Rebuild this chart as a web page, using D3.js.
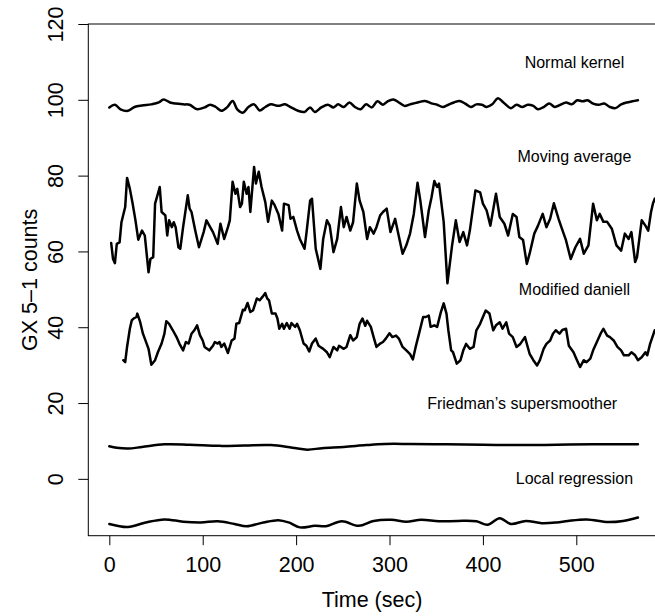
<!DOCTYPE html>
<html>
<head>
<meta charset="utf-8">
<script src="https://cdn.jsdelivr.net/npm/d3@7"></script>
<style>
  html, body { margin: 0; padding: 0; background: #fff; }
  svg { display: block; font-family: "Liberation Sans", Arial, Helvetica, sans-serif; }
</style>
</head>
<body>
<svg id="chart" width="655" height="616"></svg>
<script>
// ---- data -------------------------------------------------------------
const timeNormal = [0,6,12,20,27,35,45,53,58,65,71,79,86,94,102,108,114,120,126,132,137,143,149,155,161,167,173,181,188,194,202,209,215,220,227,234,240,245,251,257,263,269,275,281,287,293,298,304,310,316,322,330,338,346,351,357,363,369,375,381,387,393,399,404,410,416,422,430,436,442,448,454,459,465,471,477,483,489,495,501,507,512,518,524,530,536,542,548,554,560,566];
const normalKernel = [98.0,98.7,97.5,97.1,98.1,98.5,98.8,99.3,100.1,99.3,99,98.8,98.7,97.5,98,98.7,98.1,97.1,98,99.7,97.5,96.6,98.1,98.8,97.2,98.1,98.8,98.4,98.8,98.1,97.1,96.8,98,96.8,98,98.7,98,98.8,98.1,99.3,98.1,97.5,98.8,98,99.6,98.7,99.6,100.1,99.3,98.4,98.8,99.3,99.7,99,98.7,98.1,98.7,99.3,99.7,99,98.1,98.8,98.7,98.1,98.8,100.4,99.3,97.8,98.7,98.1,98.7,98.4,97.5,98.1,99,98.1,98.7,99.3,98.8,99.9,99.6,99.9,99,98.7,99,98.1,97.8,98.8,99.3,99.6,99.9];

const timeMoving = [2,4,6,8,11,13,17,19,22,25,28,31,35,38,42,44,47,49,51,54,56,60,62,64,67,69,71,74,76,79,84,86,88,92,96,101,104,108,111,116,119,123,127,129,132,135,137,140,142,144,147,149,151,155,157,160,163,167,170,174,177,181,185,187,192,194,197,201,204,209,211,215,217,221,226,229,233,236,240,244,248,251,254,258,261,265,268,272,276,279,283,286,290,293,297,301,306,309,314,318,322,326,330,333,338,342,345,348,351,353,358,362,367,371,375,379,383,386,392,397,400,404,408,414,418,423,427,432,436,439,443,447,450,455,459,464,468,472,476,481,484,489,494,499,504,508,513,518,522,525,529,533,538,543,548,552,556,559,563,565,570,574,577,580,582,584,589];
const movingAverage = [62.2,58,56.9,62,62.4,67.7,71.7,79.4,76.5,72.6,68.2,63.1,65.5,64.2,54.5,58,58.5,72.6,74.3,77,70.4,69.5,64.2,68.2,66.4,67.7,66.4,61.1,60.7,66.4,74.8,71.3,70.4,65.5,61.1,65.1,68.2,66.4,65.1,62,67.3,63.3,66.4,68.2,78.4,75.2,76.5,71.7,72.6,78.4,75.2,77,70.4,82.3,77.9,81,77,73,67.8,73.4,72.2,69.9,65.5,72.6,72.2,68.6,69.1,65.5,63.3,60.7,64.7,73.4,73.9,60.7,55.4,63.3,68.2,66.8,59.8,63.3,71.7,66.4,69.1,65.5,67.7,77.9,73.4,70.4,63.3,66.4,64.7,66.4,69.5,70.4,71.3,65.1,68.6,65.1,59.4,61.6,64.7,69.9,78.1,73.4,63.8,70.8,74.3,78.6,77,77.9,67.8,51.6,61.6,68.2,62.5,65.1,61.6,65.5,76.1,75.6,72.6,70.8,66.8,75.2,69.1,67.3,64.2,69.9,69.1,63.8,63,56.7,59.4,64.7,66.8,69.9,66.4,68.6,72.7,68.6,66.4,62.9,58,61.1,63.3,59.4,61.6,72.6,68.2,69.9,67.8,67.8,66,61.6,60.2,64.7,63.3,65.1,57.2,58.5,68.2,66.8,65.5,70.4,72.6,73.9,74.5];

const timeDaniell = [15,17,19,22,24,26,29,30,33,36,38,42,45,49,52,56,59,61,64,68,72,75,79,82,85,88,91,94,97,100,102,107,111,113,116,118,120,123,127,131,134,136,139,143,145,148,151,154,158,161,164,167,169,171,174,178,180,182,185,187,190,193,195,199,201,204,208,211,214,217,221,224,229,233,236,240,244,246,251,254,258,261,265,268,271,274,276,280,283,286,290,293,296,300,303,307,310,314,318,322,325,328,332,336,339,342,344,348,351,355,358,361,363,366,368,372,376,379,382,386,390,393,397,400,403,407,411,414,418,421,425,428,432,436,440,445,450,454,458,461,465,468,472,475,478,482,485,489,492,497,500,504,508,511,515,518,522,526,529,533,536,540,544,548,551,556,559,563,566,570,574,576,579,582,584];
const modifiedDaniell = [31.3,30.8,34.8,39.6,41.8,42.3,42.7,43.6,41.4,38.3,37,34.3,30.1,31.3,33.4,35.7,38.3,41.6,40.9,39.2,37.4,35.7,33.9,36.1,35.7,38.3,39.2,40.5,37.9,36.5,34.8,33.9,35.1,36.1,35.7,36.1,34.8,35.7,33.2,36.5,37,40.9,41.1,44.6,44.5,46.4,44,44.5,47.6,47.1,48,49,47.6,47.1,43.6,43.6,42.3,39.6,40.9,39.6,41.1,39.6,41.1,40.1,40.9,39.2,35.7,35.1,33.6,35.7,37,35.1,34.3,33.4,32.1,34.8,33.9,35.1,34.3,34.8,37.9,36.5,37.4,40.9,42.3,40.4,41.7,40.1,37.4,34.8,35.7,36.1,37,38.4,37.4,37.8,37,34.8,33.9,32.9,31.5,34.8,38.7,42.7,42.7,43.1,40.1,40.5,40.1,44,46.3,43.6,39.2,33.9,33.4,30.4,31.3,33.9,35.6,34.3,34.8,39.2,40.9,42.7,44.4,43.6,39.2,40.5,41.3,39.6,41.3,38.3,37.4,34.8,35.6,37.4,33,31.3,29.9,31.3,34.3,35.6,36.5,38.3,39.2,38.3,39.3,39.6,35.1,33.4,31.7,29.5,31.3,30.8,31.7,33.9,36.1,38.3,39.6,37.8,37.4,36.5,34.8,33.9,32.6,32.6,33.4,32.6,31.3,32.1,33.4,32.6,35.6,37.8,39.2];

const timeSuper = [0,8,20,35,59,86,118,145,173,196,212,228,251,275,295,322,361,401,440,479,518,566];
const supersmoother = [8.6,8.2,8.0,8.4,9.1,9.0,8.7,8.8,8.9,8.2,7.7,8.1,8.4,8.9,9.2,9.2,9.1,9.0,8.9,9.0,9.1,9.1];

const timeLoess = [0,20,39,59,79,98,116,134,147,165,181,192,204,220,232,249,267,283,302,318,334,353,373,393,405,418,430,446,463,479,491,511,534,550,566];
const localRegression = [-11.9,-12.7,-11.5,-10.7,-11.3,-11.5,-11.2,-11.9,-12.5,-11.5,-10.9,-11.5,-12.8,-12.4,-12.5,-11.2,-12.4,-11.1,-10.8,-11.3,-10.8,-11.2,-11.1,-11.2,-12.1,-10.4,-11.9,-11.1,-11.7,-11.5,-11.1,-10.7,-11.4,-11.1,-10.2];

const seriesLabels = ["Normal kernel", "Moving average", "Modified daniell", "Friedman\u2019s supersmoother", "Local regression"];
const labelTime = [498, 498, 498, 442, 498];
const labelCount = [110, 85, 50, 20, 0];

const xTicks = [0, 100, 200, 300, 400, 500];
const yTicks = [0, 20, 40, 60, 80, 100, 120];
const xLimits = [-22.5, 585];
const yLimits = [-15, 120];

// ---- layout -----------------------------------------------------------
const svg = d3.select("#chart");
const plot = { left: 88.3, right: 655.7, top: 24, bottom: 535.7 };
const tickFont = 21.5, noteFont = 16;

const x = d3.scaleLinear().domain(xLimits).range([plot.left, plot.right]);
const y = d3.scaleLinear().domain(yLimits).range([plot.bottom, plot.top]);

svg.append("rect").attr("width", 655).attr("height", 616).attr("fill", "#fff");

svg.append("defs").append("clipPath").attr("id", "plotClip")
  .append("rect")
  .attr("x", plot.left).attr("y", plot.top)
  .attr("width", plot.right - plot.left).attr("height", plot.bottom - plot.top);

// ---- series -----------------------------------------------------------
const zipSeries = (t, v) => t.map((d, i) => [d, v[i]]);
const series = [
  { pts: zipSeries(timeNormal, normalKernel), curve: d3.curveCatmullRom },
  { pts: zipSeries(timeMoving, movingAverage), curve: d3.curveLinear },
  { pts: zipSeries(timeDaniell, modifiedDaniell), curve: d3.curveLinear },
  { pts: zipSeries(timeSuper, supersmoother), curve: d3.curveCatmullRom },
  { pts: zipSeries(timeLoess, localRegression), curve: d3.curveCatmullRom }
];

const lines = svg.append("g").attr("clip-path", "url(#plotClip)");
series.forEach(s => {
  lines.append("path")
    .attr("d", d3.line().x(d => x(d[0])).y(d => y(d[1])).curve(s.curve)(s.pts))
    .attr("fill", "none")
    .attr("stroke", "#000")
    .attr("stroke-width", 2.5)
    .attr("stroke-linejoin", "round")
    .attr("stroke-linecap", "round");
});

// ---- annotations ------------------------------------------------------
svg.append("g").selectAll("text")
  .data(seriesLabels)
  .join("text")
  .attr("x", (d, i) => x(labelTime[i]))
  .attr("y", (d, i) => y(labelCount[i]))
  .attr("dy", "0.35em")
  .attr("text-anchor", "middle")
  .attr("font-size", noteFont)
  .attr("fill", "#000")
  .text(d => d);

// ---- frame ------------------------------------------------------------
svg.append("rect")
  .attr("x", plot.left).attr("y", plot.top)
  .attr("width", plot.right - plot.left).attr("height", plot.bottom - plot.top)
  .attr("fill", "none").attr("stroke", "#000").attr("stroke-width", 1);

// ---- axes -------------------------------------------------------------
const xAxis = svg.append("g")
  .attr("transform", `translate(0,${plot.bottom})`)
  .call(d3.axisBottom(x).tickValues(xTicks).tickFormat(d3.format("d")).tickSize(9.5).tickPadding(12));
xAxis.select(".domain").remove();
xAxis.selectAll("line").attr("stroke", "#000");
xAxis.selectAll("text").attr("font-size", tickFont).attr("font-family", null).attr("fill", "#000");

const yAxis = svg.append("g")
  .attr("transform", `translate(${plot.left},0)`)
  .call(d3.axisLeft(y).tickValues(yTicks).tickFormat(d3.format("d")).tickSize(10));
yAxis.select(".domain").remove();
yAxis.selectAll("line").attr("stroke", "#000");
yAxis.selectAll("text")
  .attr("x", null).attr("dy", null)
  .attr("transform", "translate(-25,0) rotate(-90)")
  .attr("text-anchor", "middle")
  .attr("font-size", tickFont).attr("font-family", null).attr("fill", "#000");

// ---- axis titles ------------------------------------------------------
svg.append("text")
  .attr("x", (plot.left + plot.right) / 2)
  .attr("y", 607)
  .attr("text-anchor", "middle")
  .attr("font-size", tickFont)
  .text("Time (sec)");

svg.append("text")
  .attr("transform", `translate(37,${(plot.top + plot.bottom) / 2}) rotate(-90)`)
  .attr("text-anchor", "middle")
  .attr("font-size", tickFont)
  .text("GX 5\u20131 counts");
</script>
</body>
</html>
